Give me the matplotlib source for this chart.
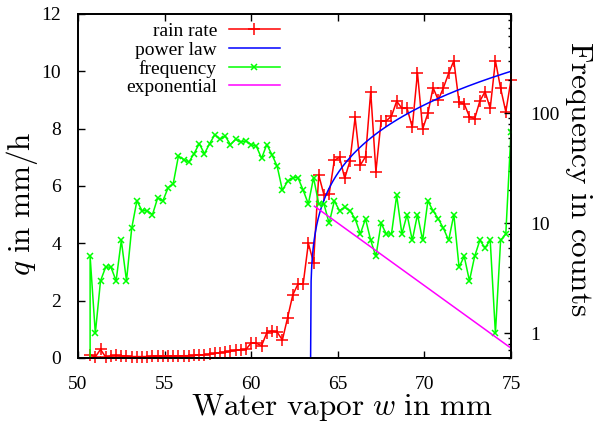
import numpy as np
import matplotlib
matplotlib.use("Agg")
import matplotlib.pyplot as plt
from matplotlib.ticker import LogLocator, FixedLocator, FixedFormatter, NullFormatter

plt.rcParams['font.family'] = ['Liberation Serif', 'DejaVu Serif']
plt.rcParams['mathtext.fontset'] = 'cm'

# water vapor bins (mm)
w = [50.7, 51.0, 51.3, 51.6, 51.9, 52.2, 52.5, 52.8, 53.1, 53.4,
     53.7, 54.0, 54.3, 54.6, 54.9, 55.2, 55.5, 55.8, 56.1, 56.4,
     56.7, 57.0, 57.3, 57.6, 57.9, 58.2, 58.5, 58.8, 59.1, 59.4,
     59.7, 60.0, 60.3, 60.6, 60.9, 61.2, 61.5, 61.8, 62.1, 62.4,
     62.7, 63.0, 63.3, 63.6, 63.9, 64.2, 64.5, 64.8, 65.1, 65.4,
     65.7, 66.0, 66.3, 66.6, 66.9, 67.2, 67.5, 67.8, 68.1, 68.4,
     68.7, 69.0, 69.3, 69.6, 69.9, 70.2, 70.5, 70.8, 71.1, 71.4,
     71.7, 72.0, 72.3, 72.6, 72.9, 73.2, 73.5, 73.8, 74.1, 74.4,
     74.7, 75.0]

# rain rate q (mm/h)
rain_rate = [0.12, 0.04, 0.30, 0.03, 0.07, 0.09, 0.06, 0.07, 0.05, 0.05,
             0.05, 0.05, 0.06, 0.06, 0.06, 0.07, 0.07, 0.07, 0.08, 0.08,
             0.09, 0.10, 0.11, 0.13, 0.16, 0.19, 0.20, 0.24, 0.27, 0.28,
             0.30, 0.53, 0.51, 0.43, 0.88, 0.94, 0.90, 0.63, 1.40, 2.20,
             2.58, 2.58, 4.00, 3.33, 6.38, 5.69, 5.72, 6.90, 7.00, 6.27,
             6.87, 8.39, 6.73, 7.02, 9.29, 6.50, 8.27, 8.27, 8.44, 8.96,
             8.71, 8.71, 8.05, 9.95, 7.99, 8.53, 9.43, 9.00, 9.43, 9.93,
             10.37, 8.92, 8.86, 8.42, 8.34, 8.96, 9.29, 8.71, 10.37, 9.41,
             8.59, 9.70]

# frequency in counts (first bin is empty)
w_freq = [50.4] + w
frequency = [0, 5, 1, 3, 4, 4, 3, 7, 3, 9, 16,
             13, 13, 12, 17, 16, 21, 23, 41, 38, 36,
             43, 53, 43, 53, 64, 58, 62, 52, 58, 55,
             56, 52, 50, 39, 52, 42, 33, 20, 24, 26,
             26, 20, 15, 26, 15, 15, 10, 16, 13, 14,
             13, 11, 8, 11, 7, 5, 10, 8, 8, 18,
             8, 12, 7, 12, 7, 16, 13, 11, 9, 7,
             12, 4, 5, 3, 5, 7, 6, 7, 1, 7,
             8, 68]

# fit parameters
wc, a_pow, beta = 63.43, 5.836, 0.22
w_exp0, f_exp0, lam = 63.65, 14.3, 3.82

w_pl = np.linspace(wc, 75, 400)
q_pl = a_pow * (w_pl - wc) ** beta
w_ex = np.linspace(w_exp0, 75, 50)
f_ex = f_exp0 * np.exp(-(w_ex - w_exp0) / lam)

fig = plt.figure(figsize=(6.01, 4.28), dpi=100)
ax = fig.add_axes([78/601, 1-358/428, 433/601, 344/428])
ax2 = ax.twinx()

l1, = ax.plot(w, rain_rate, color='#ff0000', lw=1.1, marker='+', ms=9,
              mew=1.1, clip_on=False, zorder=3)
l2, = ax.plot(w_pl, q_pl, color='#0000ff', lw=1.1, zorder=3)
l3, = ax2.plot(w_freq, frequency, color='#00ff00', lw=1.1, marker='x',
               ms=4, mew=1.1)
l4, = ax2.plot(w_ex, f_ex, color='#ff00ff', lw=1.1)

ax.set_xlim(50, 75)
ax.set_ylim(0, 12)
ax2.set_yscale('log')
ax2.set_ylim(0.596, 800)

ax.set_xticks([50, 55, 60, 65, 70, 75])
ax.set_yticks([0, 2, 4, 6, 8, 10, 12])
ax.tick_params(direction='in', length=5, width=1, labelsize=14,
               top=True, right=False)
ax.tick_params(axis='x', pad=13)
ax.tick_params(axis='y', pad=12)
ax2.yaxis.set_major_locator(FixedLocator([1, 10, 100]))
ax2.yaxis.set_major_formatter(FixedFormatter(['1', '10', '100']))
ax2.yaxis.set_minor_locator(LogLocator(base=10, subs=np.arange(2, 10)))
ax2.yaxis.set_minor_formatter(NullFormatter())
ax2.tick_params(which='major', direction='in', length=5, width=1,
                labelsize=14, pad=14)
ax2.tick_params(which='minor', direction='in', length=2.5, width=1)

for a in (ax, ax2):
    for s in a.spines.values():
        s.set_linewidth(1.3)

ax.set_xlabel(r'$\mathrm{Water\ vapor}\ w\ \mathrm{in\ mm}$', fontsize=22.5)
ax.xaxis.set_label_coords(0.61, -0.098)
ax.set_ylabel(r'$q\ \mathrm{in\ mm/h}$', fontsize=22.5, va='center')
ax.yaxis.set_label_coords(-0.129, 0.45)
ax2.set_ylabel(r'$\mathrm{Frequency\ in\ counts}$', fontsize=22.5,
               rotation=270, va='center')
ax2.yaxis.set_label_coords(1.155, 0.52)

leg = ax2.legend([l1, l2, l3, l4],
                 ['rain rate', 'power law', 'frequency', 'exponential'],
                 loc='upper right', bbox_to_anchor=(0.467, 0.975),
                 frameon=False, markerfirst=False, fontsize=14,
                 handlelength=2.65, handletextpad=0.6, labelspacing=0.05,
                 borderpad=0, borderaxespad=0, numpoints=1)

fig.savefig('out.png', dpi=100)
